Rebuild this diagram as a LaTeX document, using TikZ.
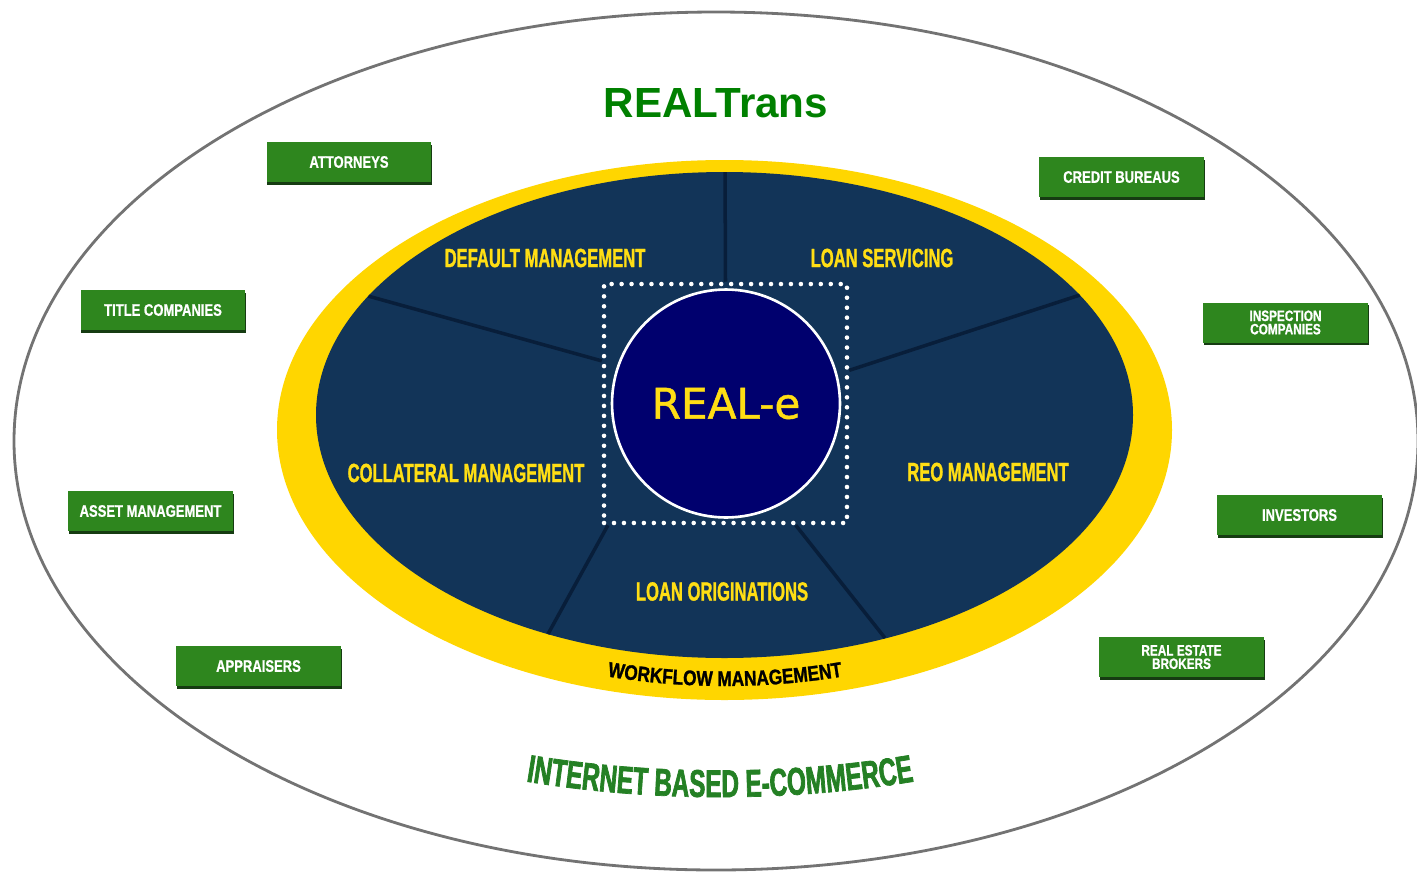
\documentclass[tikz,border=0pt]{standalone}
\usepackage{fontspec}
\setmainfont{Liberation Sans}
\newfontfamily\segfont[FakeStretch=0.63,FakeBold=1]{Liberation Sans}
\newfontfamily\tagfont[FakeStretch=0.78,FakeBold=0.8]{Liberation Sans}
\newfontfamily\ringfont[FakeStretch=0.82,FakeBold=1.2]{Liberation Sans}
\newfontfamily\ecomfont[FakeStretch=0.63,FakeBold=1.8]{Liberation Sans}
\newfontfamily\corefont[FakeBold=1.2]{DejaVu Sans}
\usetikzlibrary{decorations.text,shadows}

\definecolor{navy}{RGB}{18,52,88}
\definecolor{navydark}{RGB}{8,30,58}
\definecolor{coreblue}{RGB}{0,0,110}
\definecolor{ringyellow}{RGB}{255,214,0}
\definecolor{labelyellow}{RGB}{255,222,20}
\definecolor{boxgreen}{RGB}{46,134,30}
\definecolor{boxshade}{RGB}{22,60,18}
\definecolor{transgreen}{RGB}{0,128,0}
\definecolor{ecomgreen}{RGB}{36,128,36}
\definecolor{rimgray}{RGB}{115,115,115}

\tikzset{
  party/.style={fill=boxgreen, minimum width=3.3cm, minimum height=0.8cm, inner sep=0pt,
    text=white, align=center, font=\tagfont\bfseries\fontsize{9.5}{9}\selectfont,
    drop shadow={shadow xshift=0.4pt, shadow yshift=-1.6pt, fill=boxshade, opacity=1}},
  duo/.style={party, font=\tagfont\bfseries\fontsize{8.6}{7.6}\selectfont},
  seg/.style={text=labelyellow, font=\segfont\bfseries\fontsize{15}{15}\selectfont},
  divider/.style={navydark, line width=2pt},
}

\begin{document}
\begin{tikzpicture}[x=0.02cm, y=-0.02cm]
  \useasboundingbox (0,0) rectangle (1417,873);

  % Outer ring and title
  \draw[rimgray, line width=1.6pt] (716,441) ellipse [x radius=702, y radius=429];
  \node[font=\bfseries\fontsize{24}{24}\selectfont, text=transgreen] (title) at (716,103) {REALTrans};

  % Yellow rim and dark face
  \fill[ringyellow] (724.5,430) ellipse [x radius=447.5, y radius=270];
  \fill[navy] (724.5,415) ellipse [x radius=408.5, y radius=243];

  % Core box
  \node[draw=white, dash pattern=on 0pt off 5.67pt, line cap=round, line width=2.6pt,
    minimum width=4.86cm, minimum height=4.78cm] (core) at (725.5,403.5) {};

  % Dividers
  \begin{scope}
    \clip (724.5,415) ellipse [x radius=408.5, y radius=243];
    \coordinate (rimN) at (725,165);
    \coordinate (rimNW) at (368,296);
    \coordinate (rimNE) at (1080,295);
    \coordinate (rimSW) at (548,634);
    \coordinate (rimSE) at (885,638);
    \draw[divider] (rimN) -- (core.north);
    \draw[divider] (rimNW) -- (core.161);
    \draw[divider] (rimNE) -- (core.15);
    \draw[divider] (rimSW) -- (core.-134);
    \draw[divider] (rimSE) -- (core.-60);
  \end{scope}

  \node[circle, fill=coreblue, draw=white, line width=1.5pt, minimum size=4.56cm,
    text=labelyellow, font=\corefont\fontsize{24}{24}\selectfont] (reale) at (726,403.5) {REAL-e};

  % Segment labels
  \node[seg] (default) at (545,258) {DEFAULT MANAGEMENT};
  \node[seg] (servicing) at (882,258) {LOAN SERVICING};
  \node[seg] (collateral) at (466,473) {COLLATERAL MANAGEMENT};
  \node[seg] (reo) at (988,472) {REO MANAGEMENT};
  \node[seg] (originations) at (722,591.5) {LOAN ORIGINATIONS};

  % Curved texts
  \path[decorate, decoration={text along path, text align=center,
    text={|\ringfont\bfseries\fontsize{12}{12}\selectfont|WORKFLOW MANAGEMENT}}]
    (508,651.7) arc [start angle=120, end angle=60, x radius=434, y radius=256];
  \path[decorate, decoration={text along path, text align=center,
    text={|\color{ecomgreen}\ecomfont\bfseries\fontsize{22}{22}\selectfont|INTERNET BASED E-COMMERCE}}]
    (439.8,763.6) arc [start angle=115, end angle=65, x radius=663, y radius=357];

  % Parties
  \node[party] (attorneys) at (349,162) {ATTORNEYS};
  \node[party] (credit) at (1121.5,177) {CREDIT BUREAUS};
  \node[party] (titleco) at (163,310) {TITLE COMPANIES};
  \node[duo] (inspection) at (1285.5,322.5) {INSPECTION\\COMPANIES};
  \node[party] (asset) at (150.5,511) {ASSET MANAGEMENT};
  \node[party] (investors) at (1299.5,515) {INVESTORS};
  \node[party] (appraisers) at (258.5,666) {APPRAISERS};
  \node[duo] (brokers) at (1181.5,657) {REAL ESTATE\\BROKERS};
\end{tikzpicture}
\end{document}
